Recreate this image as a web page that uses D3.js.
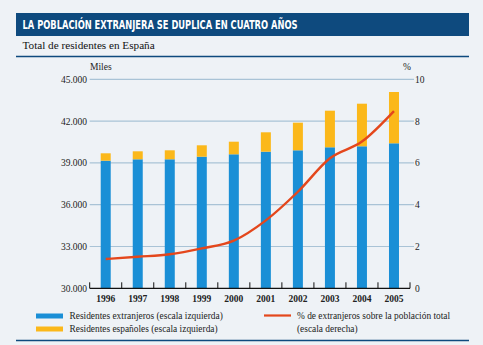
<!DOCTYPE html>
<html><head><meta charset="utf-8">
<script src="https://cdn.jsdelivr.net/npm/d3@7"></script>
<style>
html,body{margin:0;padding:0;background:#eef2f6;}
svg{display:block;}
</style></head>
<body>
<svg id="c" width="483" height="345"></svg>
<script>
const years = ["1996","1997","1998","1999","2000","2001","2002","2003","2004","2005"];
const residentesA = [39158, 39258, 39258, 39445, 39617, 39804, 39904, 40120, 40192, 40407]; // blue (bottom)
const residentesB = [531, 574, 646, 818, 905, 1392, 1982, 2627, 3057, 3681]; // orange (stacked on top)
const pct = [1.40, 1.51, 1.63, 1.91, 2.28, 3.25, 4.62, 6.22, 7.02, 8.48];
const leftTicks = [30000, 33000, 36000, 39000, 42000, 45000];
const rightTicks = [0, 2, 4, 6, 8, 10];

const svg = d3.select("#c");
const serif = "'Liberation Serif','DejaVu Serif',serif";
const navy = "#0e4a7e";

svg.append("rect").attr("width",483).attr("height",345).attr("fill","#eef2f6");

// title bar
svg.append("rect").attr("x",16).attr("y",13).attr("width",453).attr("height",23).attr("fill",navy);
svg.append("text").attr("x",22.5).attr("y",29)
  .attr("fill","#fff").attr("font-family","'Liberation Sans Narrow','DejaVu Sans Condensed','Liberation Sans',sans-serif")
  .attr("font-weight","bold").attr("font-size",11.5)
  .attr("textLength",275).attr("lengthAdjust","spacingAndGlyphs")
  .text("LA POBLACIÓN EXTRANJERA SE DUPLICA EN CUATRO AÑOS");
svg.append("text").attr("x",22.5).attr("y",48.5).attr("fill","#111")
  .attr("font-family",serif).attr("font-size",11.2).text("Total de residentes en España");
svg.append("line").attr("x1",16).attr("x2",469).attr("y1",56.5).attr("y2",56.5).attr("stroke",navy).attr("stroke-width",1.5);
svg.append("line").attr("x1",16).attr("x2",469).attr("y1",340.5).attr("y2",340.5).attr("stroke",navy).attr("stroke-width",1.5);

const x0 = 89.7, x1 = 410, yTop = 79.3, yBot = 288.3;
const x = d3.scaleBand().domain(years).range([x0, x1]).padding(0);
const yL = d3.scaleLinear().domain([30000, 45000]).range([yBot, yTop]);
const yR = d3.scaleLinear().domain([0, 10]).range([yBot, yTop]);

// grid lines
svg.append("g").selectAll("line").data(leftTicks.slice(1)).join("line")
  .attr("x1",x0).attr("x2",x1+4).attr("y1",d=>yL(d)).attr("y2",d=>yL(d))
  .attr("stroke","#a9c3d6").attr("stroke-width",1.2);

// tick labels
svg.append("g").selectAll("text").data(leftTicks).join("text")
  .attr("x",87).attr("y",d=>yL(d)+3.5).attr("text-anchor","end")
  .attr("font-family",serif).attr("font-size",9.5).attr("fill","#222")
  .text(d=>d3.format(",")(d).replace(/,/g,"."));
svg.append("g").selectAll("text").data(rightTicks).join("text")
  .attr("x",415).attr("y",d=>yR(d)+3.5).attr("text-anchor","start")
  .attr("font-family",serif).attr("font-size",9.5).attr("fill","#222")
  .text(d=>d);
svg.append("text").attr("x",90).attr("y",70).attr("font-family",serif).attr("font-size",9.5).attr("fill","#222").text("Miles");
svg.append("text").attr("x",403).attr("y",70).attr("font-family",serif).attr("font-size",9.5).attr("fill","#222").text("%");

// bars
const bw = 10;
svg.append("g").selectAll("rect").data(years).join("rect")
  .attr("x",d=>x(d)+x.bandwidth()/2-bw/2).attr("width",bw)
  .attr("y",(d,i)=>yL(residentesA[i])).attr("height",(d,i)=>yL(30000)-yL(residentesA[i]))
  .attr("fill","#1a8fd6");
svg.append("g").selectAll("rect").data(years).join("rect")
  .attr("x",d=>x(d)+x.bandwidth()/2-bw/2).attr("width",bw)
  .attr("y",(d,i)=>yL(residentesA[i]+residentesB[i])).attr("height",(d,i)=>yL(residentesA[i])-yL(residentesA[i]+residentesB[i]))
  .attr("fill","#fbb81a");

// baseline & ticks
svg.append("line").attr("x1",x0).attr("x2",x1).attr("y1",yBot).attr("y2",yBot).attr("stroke","#111").attr("stroke-width",1.2);
const bounds = years.map(d=>x(d)).concat([x1]);
svg.append("g").selectAll("line").data(bounds).join("line")
  .attr("x1",d=>d).attr("x2",d=>d).attr("y1",yBot).attr("y2",yBot-6)
  .attr("stroke","#111").attr("stroke-width",1);

// x labels
svg.append("g").selectAll("text").data(years).join("text")
  .attr("x",d=>x(d)+x.bandwidth()/2).attr("y",302).attr("text-anchor","middle")
  .attr("font-family",serif).attr("font-size",9.5).attr("font-weight","bold").attr("fill","#222")
  .text(d=>d);

// line
const line = d3.line().x((d,i)=>x(years[i])+x.bandwidth()/2).y(d=>yR(d)).curve(d3.curveMonotoneX);
svg.append("path").datum(pct).attr("d",line).attr("fill","none")
  .attr("stroke","#e4471c").attr("stroke-width",2.4);

// legend
svg.append("rect").attr("x",36).attr("y",313.5).attr("width",27).attr("height",5).attr("fill","#1a8fd6");
svg.append("rect").attr("x",36).attr("y",326.5).attr("width",27).attr("height",5).attr("fill","#fbb81a");
svg.append("line").attr("x1",264).attr("x2",291).attr("y1",315.5).attr("y2",315.5).attr("stroke","#e4471c").attr("stroke-width",2.2);
const lt = svg.append("g").attr("font-family",serif).attr("font-size",9.4).attr("fill","#222");
lt.append("text").attr("x",69.5).attr("y",319).text("Residentes extranjeros (escala izquierda)");
lt.append("text").attr("x",69.5).attr("y",332).text("Residentes españoles (escala izquierda)");
lt.append("text").attr("x",297).attr("y",319).text("% de extranjeros sobre la población total");
lt.append("text").attr("x",297).attr("y",332).text("(escala derecha)");
</script>
</body></html>
